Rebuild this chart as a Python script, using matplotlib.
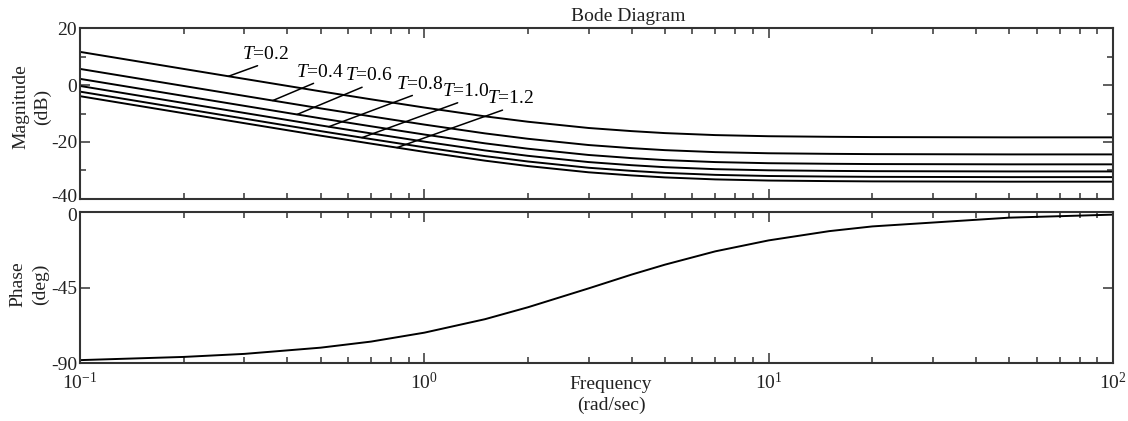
"""Bode diagram: magnitude for several T values and the common phase curve."""

import numpy as np
import matplotlib

matplotlib.use("Agg")
import matplotlib.pyplot as plt
from matplotlib.ticker import LogLocator, MultipleLocator, NullFormatter, FixedLocator
from matplotlib.transforms import ScaledTranslation

plt.rcParams["font.family"] = ["Liberation Serif", "DejaVu Serif"]
plt.rcParams["mathtext.fontset"] = "custom"
plt.rcParams["mathtext.rm"] = "Liberation Serif"
plt.rcParams["mathtext.it"] = "Liberation Serif:italic"
plt.rcParams["axes.unicode_minus"] = False

freq = [0.1, 0.2, 0.3, 0.5, 0.7, 1, 1.5, 2, 3, 4, 5, 7, 10, 15, 20, 50, 100]

t_values = ["0.2", "0.4", "0.6", "0.8", "1.0", "1.2"]
mag_t02 = [11.7, 5.7, 2.2, -2.2, -5.0, -7.9, -11.0, -12.9, -15.1, -16.2, -16.9, -17.6, -18.0, -18.2, -18.3, -18.4, -18.4]
mag_t04 = [5.7, -0.3, -3.8, -8.2, -11.0, -13.9, -17.0, -18.9, -21.1, -22.2, -22.9, -23.6, -24.0, -24.2, -24.3, -24.4, -24.4]
mag_t06 = [2.2, -3.8, -7.3, -11.7, -14.5, -17.4, -20.5, -22.4, -24.6, -25.7, -26.4, -27.1, -27.5, -27.7, -27.8, -27.9, -27.9]
mag_t08 = [-0.3, -6.3, -9.8, -14.2, -17.0, -19.9, -23.0, -24.9, -27.1, -28.2, -28.9, -29.6, -30.0, -30.2, -30.3, -30.4, -30.4]
mag_t10 = [-2.3, -8.3, -11.8, -16.2, -19.0, -21.9, -25.0, -26.9, -29.1, -30.2, -30.9, -31.6, -32.0, -32.2, -32.3, -32.4, -32.4]
mag_t12 = [-3.9, -9.9, -13.4, -17.8, -20.6, -23.5, -26.6, -28.5, -30.7, -31.8, -32.5, -33.2, -33.6, -33.8, -33.9, -34.0, -34.0]
phase = [-88.1, -86.2, -84.4, -80.7, -77.1, -71.8, -63.8, -56.7, -45.5, -37.3, -31.4, -23.5, -17.0, -11.5, -8.7, -3.5, -1.7]

# frequency where each label's pointer touches its curve
label_freq = [0.270, 0.363, 0.427, 0.528, 0.659, 0.833]
label_offset = [(26.4, 9.6), (34.1, 14.4), (51.6, 21.6), (65.5, 24.5), (74.4, 27.1), (81.6, 29.0)]

mags = [mag_t02, mag_t04, mag_t06, mag_t08, mag_t10, mag_t12]

SPINE = "#333333"
TEXT = "#222222"
FS = 14

fig = plt.figure(figsize=(11.28, 4.21), dpi=100)
ax_mag = fig.add_axes([0.0709, 0.528, 0.9158, 0.4048])
ax_ph = fig.add_axes([0.0709, 0.137, 0.9158, 0.360])

for ax in (ax_mag, ax_ph):
    ax.set_xscale("log")
    ax.set_xlim(0.1, 100)
    ax.xaxis.set_major_locator(LogLocator(base=10, numticks=10))
    ax.xaxis.set_minor_locator(LogLocator(base=10, subs=np.arange(2, 10), numticks=10))
    ax.xaxis.set_minor_formatter(NullFormatter())
    ax.tick_params(which="both", direction="in", top=True, right=True, colors=SPINE,
                   labelcolor=TEXT, labelsize=FS, width=1.1)
    ax.tick_params(which="major", length=7.5)
    ax.tick_params(which="minor", length=4.5)
    for spine in ax.spines.values():
        spine.set_color(SPINE)
        spine.set_linewidth(1.5)

lw = 1.4
for m in mags:
    ax_mag.plot(freq, m, color="black", linewidth=lw)
ax_mag.set_ylim(-40, 20)
ax_mag.yaxis.set_major_locator(MultipleLocator(20))
ax_mag.yaxis.set_minor_locator(MultipleLocator(10))
ax_mag.tick_params(axis="x", labelbottom=False)
ax_mag.tick_params(axis="y", pad=2)

log_f = np.log10(freq)
for t, m, wf, off in zip(t_values, mags, label_freq, label_offset):
    yv = np.interp(np.log10(wf), log_f, m)
    ax_mag.annotate(
        r"$T$=" + t,
        xy=(wf, yv),
        xytext=off,
        textcoords="offset points",
        ha="center",
        va="bottom",
        fontsize=FS,
        arrowprops=dict(arrowstyle="-", color="black", linewidth=1.1,
                        shrinkA=0, shrinkB=0, relpos=(0.5, 0.0)),
    )

ax_mag.text(0.531, 1.02, "Bode Diagram", transform=ax_mag.transAxes,
            ha="center", va="bottom", fontsize=FS, color=TEXT)

ax_ph.plot(freq, phase, color="black", linewidth=lw)
ax_ph.set_ylim(-90, 0)
ax_ph.yaxis.set_major_locator(FixedLocator([-90, -45, 0]))
ax_ph.tick_params(axis="y", pad=2)
ax_ph.tick_params(axis="x", pad=6)

# keep the "-40" and "0" labels where the two axes meet from touching
fig.canvas.draw()
for lab in ax_mag.get_yticklabels():
    if lab.get_position()[1] == -40:
        lab.set_transform(lab.get_transform() + ScaledTranslation(0, 2 / 72, fig.dpi_scale_trans))
for lab in ax_ph.get_yticklabels():
    if lab.get_position()[1] == 0:
        lab.set_transform(lab.get_transform() + ScaledTranslation(0, -2 / 72, fig.dpi_scale_trans))

fig.text(0.028, 1 - 107 / 421, "Magnitude\n(dB)", rotation=90, ha="center", va="center",
         fontsize=FS, multialignment="center", color=TEXT, linespacing=1.35)
fig.text(0.026, 1 - 284 / 421, "Phase\n(deg)", rotation=90, ha="center", va="center",
         fontsize=FS, multialignment="center", color=TEXT, linespacing=1.35)
fig.text(611 / 1128, 1 - 395 / 421, "Frequency\n(rad/sec)", ha="center", va="center",
         fontsize=FS, multialignment="center", color=TEXT, linespacing=1.25)

fig.savefig("out.png", dpi=100, facecolor="white")
